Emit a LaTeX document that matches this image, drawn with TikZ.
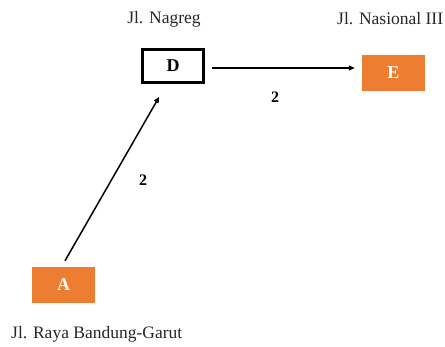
\documentclass[tikz,border=0pt]{standalone}
\usepackage{fontspec}
\setmainfont{Liberation Serif}
\usetikzlibrary{arrows.meta,calc}
\definecolor{boxorange}{HTML}{ED7D31}
\tikzset{
  orangebox/.style={fill=boxorange, draw=none, minimum width=63pt, minimum height=36pt, inner sep=0pt, text=white, font=\fontsize{18}{20}\selectfont\bfseries},
  whitebox/.style={draw=black, line width=2.5pt, fill=white, minimum width=61pt, minimum height=33pt, inner sep=0pt, font=\fontsize{18}{20}\selectfont\bfseries},
  place/.style={font=\fontsize{17.5}{19}\selectfont, inner sep=0pt, text=black!85},
  weight/.style={font=\fontsize{16}{18}\selectfont\bfseries, inner sep=0pt},
  arr/.style={-{Triangle[length=6pt,width=5pt]}, line width=1.5pt}
}
\begin{document}
\begin{tikzpicture}[x=1pt,y=-1pt]
\useasboundingbox (0,0) rectangle (445,347);
\node[whitebox] (D) at (173,66) {D};
\node[orangebox] (E) at (393.5,73) {E};
\node[orangebox] (A) at (63.5,285) {A};
\node[place] (lD) at (164,19) {Jl. Nagreg};
\node[place, anchor=west] (lE) at (337,19) {Jl. Nasional III};
\node[place, anchor=west] (lA) at (11,334) {Jl. Raya Bandung-Garut};
\draw[arr] ($(D.east)+(7,2)$) -- ($(E.west |- D.east)+(-7,2)$);
\draw[arr] ($(A.north)+(1.5,-6)$) -- ($(D.south west)+(18,13)$);
\node[weight] (w1) at (275,97) {2};
\node[weight] (w2) at (143,180) {2};
\end{tikzpicture}
\end{document}
